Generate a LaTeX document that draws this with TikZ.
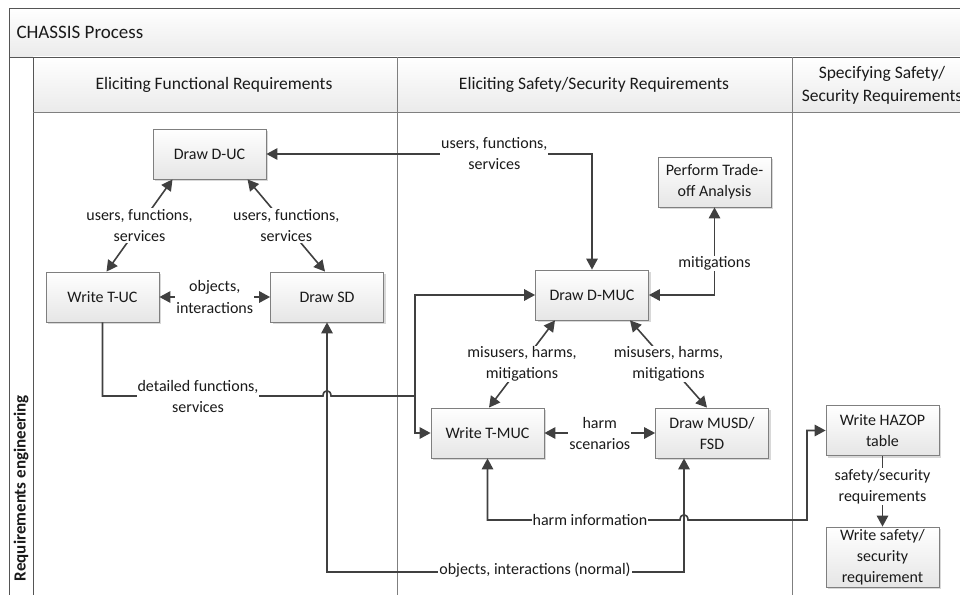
\documentclass[tikz,border=0pt]{standalone}
\usepackage{fontspec}
\setmainfont{Carlito}
\usetikzlibrary{arrows.meta,shadows}
\definecolor{ln}{HTML}{404040}
\definecolor{bd}{HTML}{7F7F7F}
\definecolor{txt}{HTML}{1A1A1A}
\definecolor{frm}{HTML}{555555}
\begin{document}
\begin{tikzpicture}[x=1pt,y=-1pt,
  box/.style={draw=bd, line width=0.8pt, top color=white, bottom color=black!10,
    minimum width=113pt, minimum height=50pt, align=center,
    font=\fontsize{16}{21}\selectfont, text=txt, inner sep=2pt,
    drop shadow={shadow xshift=2pt, shadow yshift=-2pt, fill=black!30, opacity=0.5}},
  conn/.style={draw=ln, line width=1.6pt},
  tip/.style={-{Triangle[length=11pt,width=11.5pt]}},
  tips/.style={{Triangle[length=11pt,width=11.5pt]}-{Triangle[length=11pt,width=11.5pt]}},
  lbl/.style={fill=white, align=center, font=\fontsize{16}{21}\selectfont, text=txt, inner sep=1pt},
  hdr/.style={font=\fontsize{17.5}{23}\selectfont, text=txt, align=center},
  lane/.style={draw=bd, line width=0.8pt},
]
\useasboundingbox (0,0) rectangle (960,594);
\clip (0,0) rectangle (960,594);
% bands
\path[top color=white, bottom color=black!8] (9,8) rectangle (975,57);
\path[top color=white, bottom color=black!8] (33,57) rectangle (975,112);
% frame
\draw[frm, line width=0.9pt] (975,8) -- (9,8) -- (9,600);
\draw[frm, line width=0.9pt] (9,57) -- (975,57);
\draw[frm, line width=0.9pt] (33,57) -- (33,600);
\draw[lane] (33,112) -- (975,112);
\draw[lane] (397,57) -- (397,600);
\draw[lane] (792,57) -- (792,600);
% titles
\node[anchor=west, font=\fontsize{19}{21}\selectfont, text=txt] (title) at (13,32) {CHASSIS Process};
\node[rotate=90, font=\bfseries\fontsize{17}{18}\selectfont, text=txt] (lanelbl) at (21,488) {Requirements engineering};
\node[hdr] (h1) at (214,85) {Eliciting Functional Requirements};
\node[hdr] (h2) at (594,85) {Eliciting Safety/Security Requirements};
\node[hdr] (h3) at (882,85) {Specifying Safety/\\Security Requirements};
% boxes
\node[box] (duc) at (209.5,154) {Draw D-UC};
\node[box] (tuc) at (102.5,297) {Write T-UC};
\node[box] (sd) at (327,297) {Draw SD};
\node[box] (trade) at (714.5,182) {Perform Trade-\\off Analysis};
\node[box] (dmuc) at (592,295) {Draw D-MUC};
\node[box] (tmuc) at (487.5,433) {Write T-MUC};
\node[box] (musd) at (712,433) {Draw MUSD/\\FSD};
\node[box] (hazop) at (882.5,430.5) {Write HAZOP\\table};
\node[box, minimum height=60pt, inner sep=0pt] (wsr) at (882.5,557) {Write safety/\\security\\requirement};
% connectors
\draw[conn,tips] (duc.east) -| node[lbl, pos=0.35]{users, functions,\\services} (dmuc.north);
\draw[conn,tips] ([xshift=-37pt]duc.south) -- node[lbl]{users, functions,\\services} ([xshift=4pt]tuc.north);
\draw[conn,tips] ([xshift=38pt]duc.south) -- node[lbl]{users, functions,\\services} ([xshift=-2pt]sd.north);
\draw[conn,tips] (tuc.east) -- node[lbl]{objects,\\interactions} (sd.west);
\coordinate (j1) at (415,396);
\draw[conn] (tuc.south) |- (323,396) .. controls (323,389) and (331,389) .. (331,396) -- (j1);
\node[lbl] (ldf) at (198,396) {detailed functions,\\services};
\draw[conn,tip] (j1) |- (dmuc.west);
\draw[conn,tip] (j1) |- (tmuc.west);
\coordinate (c1) at (327,572);
\coordinate (c2) at (684,572);
\draw[conn,tips] (sd.south) -- (c1) -- (c2) -- (c2 |- musd.south);
\node[lbl] (lobj) at (535,570) {objects, interactions (normal)};
\draw[conn,tips] (dmuc.east) -| node[lbl,pos=0.68]{mitigations} (trade.south);
\draw[conn,tips] ([xshift=-37pt]dmuc.south) -- node[lbl]{misusers, harms,\\mitigations} ([xshift=1.5pt]tmuc.north);
\draw[conn,tips] ([xshift=38pt]dmuc.south) -- node[lbl]{misusers, harms,\\mitigations} ([xshift=-5pt]musd.north);
\draw[conn,tips] (tmuc.east) -- node[lbl]{harm\\scenarios} (musd.west);
\coordinate (h1c) at (487.5,520);
\coordinate (h2c) at (807,520);
\draw[conn,tips] (tmuc.south) -- (h1c) -- (680,520) .. controls (680,513) and (688,513) .. (688,520) -- (h2c) |- (hazop.west);
\node[lbl] (lharm) at (590,520) {harm information};
\draw[conn,tip] (hazop.south) -- node[lbl,pos=0.43]{safety/security\\requirements} (wsr.north);
\end{tikzpicture}
\end{document}
